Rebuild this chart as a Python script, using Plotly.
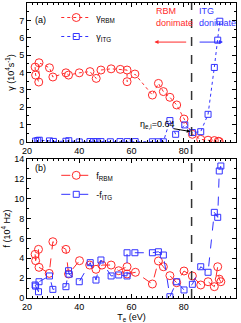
import plotly.graph_objects as go

# ---- data ----
te_g_rbm = [23.1, 23.3, 24.5, 24.6, 28.6, 29.9, 34.9, 35.9, 40.0, 44.1, 46.5, 48.3, 52.2, 55.7,
            58.3, 58.3, 61.3, 68.0, 70.3, 72.2, 74.7, 77.3, 80.1, 83.3, 86.5, 89.3, 91.7, 93.2, 93.6]
g_rbm = [4.31, 3.85, 3.45, 4.56, 4.27, 3.74, 3.98, 3.85, 3.98, 4.05, 3.66, 4.14, 4.21, 4.18,
         4.14, 3.47, 3.91, 2.70, 3.37, 2.90, 2.57, 2.13, 1.32, 0.44, 0.15, 0.10, 0.08, 0.04, 0.02]

te_g_itg = [23.3, 24.1, 24.7, 28.6, 30.1, 34.9, 36.0, 40.0, 44.1, 45.5, 46.8, 48.3, 51.9, 55.6,
            58.4, 61.4, 68.0, 70.3, 72.2, 74.7, 76.9, 80.4, 83.3, 86.5, 89.3, 91.7, 93.0, 93.8]
g_itg = [0.05, 0.08, 0.10, 0.06, 0.03, 0.04, 0.07, 0.00, 0.02, 0.02, 0.02, 0.02, 0.01, 0.02,
         0.02, 0.02, 0.01, 0.01, 0.01, 1.23, 0.44, 0.98, 0.54, 0.59, 1.59, 4.29, 5.86, 6.95]

te_f_rbm = [23.1, 23.3, 24.4, 24.6, 28.5, 29.9, 34.9, 35.9, 40.1, 44.0, 46.4, 48.7, 52.2, 55.1,
            58.3, 58.3, 61.5, 68.0, 70.3, 72.2, 74.7, 77.3, 80.1, 83.3, 86.5, 89.3, 91.7, 93.0, 93.6, 94.2]
f_rbm = [4.40, 3.76, 4.90, 3.09, 2.48, 5.67, 4.90, 2.42, 3.76, 3.32, 2.89, 3.32, 3.32, 2.75,
         3.15, 2.42, 2.59, 1.41, 3.73, 3.15, 2.25, 1.54, 2.72, 2.22, 1.31, 1.64, 1.14, 3.15, 1.90, 1.64]

te_f_itg = [23.1, 23.3, 24.4, 24.6, 28.6, 29.9, 34.9, 35.9, 36.1, 40.0, 44.2, 46.4, 48.3, 52.2, 55.1,
            58.3, 58.3, 61.3, 68.0, 70.3, 72.2, 74.7, 77.3, 80.1, 83.3, 86.5, 89.3, 91.7, 93.0, 93.6, 94.2]
f_itg = [1.31, 1.20, 0.63, 1.64, 2.22, 0.87, 1.14, 2.75, 2.40, 1.64, 3.56, 1.81, 3.83, 2.22, 2.32,
         2.22, 4.56, 4.56, 4.56, 4.66, 4.33, 0.13, 1.64, 0.81, 1.38, 3.15, 2.59, 8.63, 8.13, 12.8, 13.3]

te_crit = 83.0

RED = "#ff2a2a"
BLUE = "#3333ff"
FONT = "Liberation Sans"

fig = go.Figure()
fig.add_trace(go.Scatter(x=te_g_rbm, y=g_rbm, mode="lines+markers", name="γ<sub>RBM</sub>",
                         line=dict(color=RED, dash="dot", width=1),
                         marker=dict(symbol="circle-open", size=8, color=RED, line=dict(width=1)),
                         xaxis="x", yaxis="y", legend="legend"))
fig.add_trace(go.Scatter(x=te_g_itg, y=g_itg, mode="lines+markers", name="γ<sub>ITG</sub>",
                         line=dict(color=BLUE, dash="dot", width=1),
                         marker=dict(symbol="square-open", size=6, color=BLUE, line=dict(width=1)),
                         xaxis="x", yaxis="y", legend="legend"))
fig.add_trace(go.Scatter(x=te_f_rbm, y=f_rbm, mode="lines+markers", name="f<sub>RBM</sub>",
                         line=dict(color=RED, dash="dash", width=1),
                         marker=dict(symbol="circle-open", size=8, color=RED, line=dict(width=1)),
                         xaxis="x2", yaxis="y2", legend="legend2"))
fig.add_trace(go.Scatter(x=te_f_itg, y=f_itg, mode="lines+markers", name="-f<sub>ITG</sub>",
                         line=dict(color=BLUE, dash="dash", width=1),
                         marker=dict(symbol="square-open", size=6, color=BLUE, line=dict(width=1)),
                         xaxis="x2", yaxis="y2", legend="legend2"))

axis_common = dict(showline=True, linecolor="black", linewidth=1, mirror="ticks", ticks="inside",
                   ticklen=4, tickcolor="black", showgrid=False, zeroline=False, automargin=False,
                   tickfont=dict(family=FONT, size=9, color="black"))

fig.update_layout(
    width=241, height=323,
    margin=dict(l=27, r=5, t=3, b=25),
    paper_bgcolor="white", plot_bgcolor="white",
    font=dict(family=FONT, size=9, color="black"),
    hovermode=False,
    xaxis=dict(domain=[0, 1], range=[20, 100], dtick=20, anchor="y",
               minor=dict(dtick=2, ticks="inside", ticklen=2, tickcolor="black"), **axis_common),
    yaxis=dict(domain=[0.529, 1], range=[0, 8], dtick=1, anchor="x",
               minor=dict(dtick=0.5, ticks="inside", ticklen=2, tickcolor="black"),
               title=dict(text="γ (10<sup>4</sup>s<sup>-1</sup>)", font=dict(family=FONT, size=9), standoff=3),
               **axis_common),
    xaxis2=dict(domain=[0, 1], range=[20, 100], dtick=20, anchor="y2",
                minor=dict(dtick=2, ticks="inside", ticklen=2, tickcolor="black"),
                title=dict(text="T<sub>e</sub> (eV)", font=dict(family=FONT, size=9), standoff=2),
                **axis_common),
    yaxis2=dict(domain=[0, 0.471], range=[0, 14], dtick=2, anchor="x2",
                minor=dict(dtick=1, ticks="inside", ticklen=2, tickcolor="black"),
                title=dict(text="f (10<sup>4</sup> Hz)", font=dict(family=FONT, size=9), standoff=3),
                **axis_common),
    legend=dict(x=0.14, y=1.0, xanchor="left", yanchor="top", bgcolor="rgba(0,0,0,0)",
                font=dict(family=FONT, size=9), itemwidth=30, tracegroupgap=0),
    legend2=dict(x=0.14, y=0.465, xanchor="left", yanchor="top", bgcolor="rgba(0,0,0,0)",
                 font=dict(family=FONT, size=9), itemwidth=30, tracegroupgap=0),
    showlegend=True,
)

fig.add_shape(type="line", xref="x", yref="paper", x0=te_crit, x1=te_crit, y0=0, y1=1,
              line=dict(color="#333333", width=1.5, dash="dash"))

ann = [
    dict(text="(a)", x=0.03, y=0.965, xref="paper", yref="paper", showarrow=False,
         xanchor="left", font=dict(family=FONT, size=9)),
    dict(text="(b)", x=0.03, y=0.44, xref="paper", yref="paper", showarrow=False,
         xanchor="left", font=dict(family=FONT, size=9)),
    dict(text="RBM<br>donimate", x=68.5, y=7.2, xref="x", yref="y", showarrow=False,
         xanchor="left", yanchor="middle", align="left", font=dict(family=FONT, size=9, color=RED)),
    dict(text="ITG<br>donimate", x=85.2, y=7.2, xref="x", yref="y", showarrow=False,
         xanchor="left", yanchor="middle", align="left", font=dict(family=FONT, size=9, color=BLUE)),
    dict(text="", x=68.8, y=5.75, ax=81.5, ay=5.75, xref="x", yref="y", axref="x", ayref="y",
         showarrow=True, arrowhead=2, arrowsize=0.8, arrowwidth=1, arrowcolor=RED),
    dict(text="", x=95.0, y=5.75, ax=85.5, ay=5.75, xref="x", yref="y", axref="x", ayref="y",
         showarrow=True, arrowhead=2, arrowsize=0.8, arrowwidth=1, arrowcolor=BLUE),
    dict(text="η<sub>e,i</sub>=0.64", x=62.5, y=0.98, xref="x", yref="y", showarrow=False,
         xanchor="left", yanchor="middle", font=dict(family=FONT, size=9)),
    dict(text="", x=82.5, y=0.6, ax=75.5, ay=0.78, xref="x", yref="y", axref="x", ayref="y",
         showarrow=True, arrowhead=2, arrowsize=0.7, arrowwidth=1, arrowcolor="black"),
]
fig.update_layout(annotations=ann)

fig.write_html("out.html", config={"displayModeBar": False, "staticPlot": True},
               post_script="document.body.style.margin='0px';document.body.style.padding='0px';")
